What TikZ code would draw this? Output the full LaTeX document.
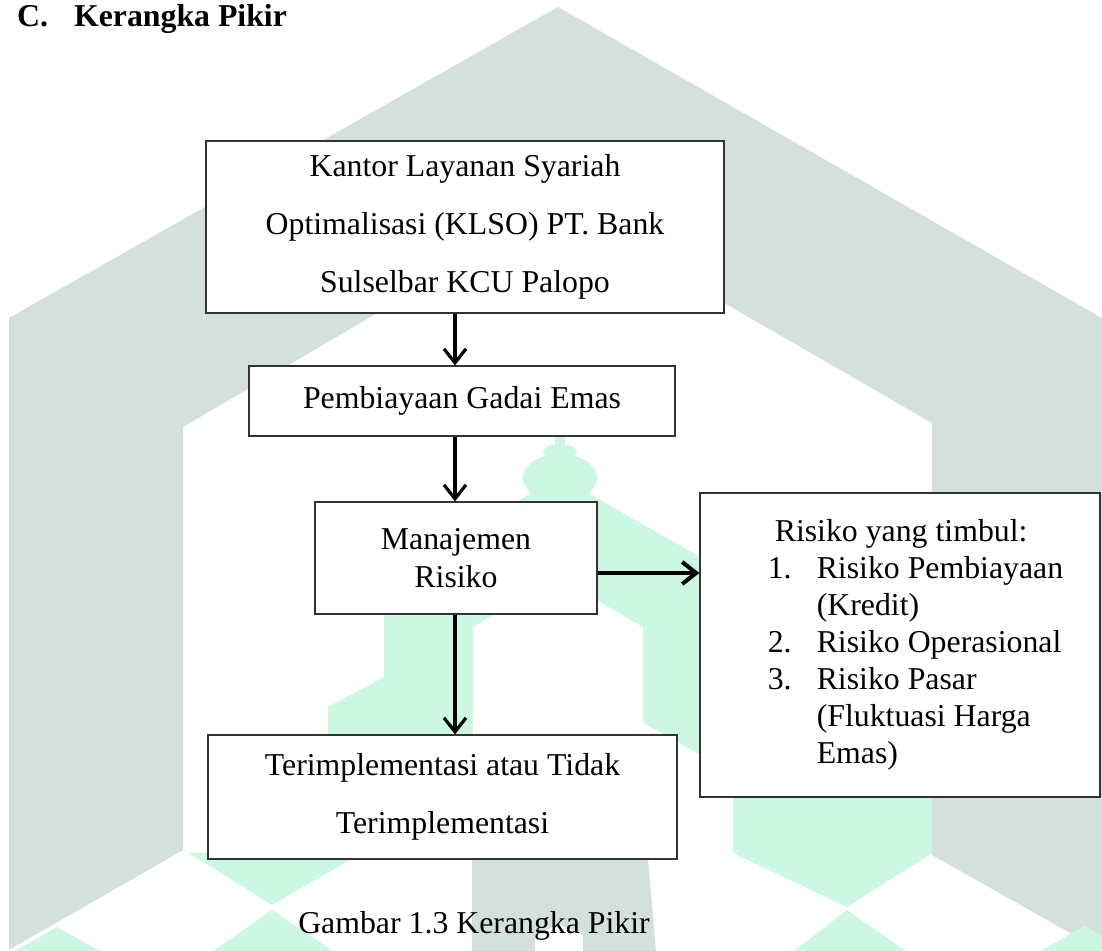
\documentclass[tikz,border=0pt]{standalone}
\usepackage{fontspec}
\setmainfont{Liberation Serif}
\usepackage{tikz}
\usetikzlibrary{arrows.meta}

\definecolor{wmgrey}{RGB}{211,224,220}
\definecolor{wmmint}{RGB}{204,247,226}

\begin{document}
\begin{tikzpicture}[x=0.5pt, y=-0.5pt,
    box/.style={draw=black!80, line width=0.6pt, fill=white, inner sep=0pt,
                align=center, font=\fontsize{15.9}{29}\selectfont},
    tight/.style={font=\fontsize{15.9}{19}\selectfont},
    flow/.style={line width=1.6pt, -{Straight Barb[length=7pt,width=11pt]}}]
  \useasboundingbox (0,0) rectangle (1102,951);

  % watermark
  \fill[wmgrey] (9,318) -- (558,7) -- (1102,318) -- (1102,951) -- (932,855)
    -- (932,423) -- (558,207) -- (183,427) -- (183,850) -- (9,950) -- cycle;
  \fill[wmgrey] (472,859) -- (648,859) -- (656,951) -- (583,951) -- (583,935)
    -- (559,924) -- (535,935) -- (535,951) -- (472,951) -- cycle;
  \fill[wmmint] (560,477) -- (932,689) -- (932,853) -- (328,853) -- (328,707)
    -- (384,677) -- (384,577) -- cycle;
  \fill[white] (473,627) -- (558,578) -- (643,627) -- (643,723) -- (733,773)
    -- (733,853) -- (473,853) -- cycle;
  \fill[wmmint] (555,430) rectangle (565,446);
  \fill[wmmint] (560,452) ellipse (17 and 8);
  \fill[wmmint] (560,478) ellipse (37 and 24);
  \fill[wmmint] (545,495) rectangle (575,520);
  \fill[wmmint] (189,853) -- (362,853) -- (272,905) -- cycle;
  \fill[wmmint] (213,951) -- (272,910) -- (333,951) -- cycle;
  \fill[wmmint] (733,853) -- (932,853) -- (847,907) -- cycle;
  \fill[wmmint] (794,951) -- (847,910) -- (906,951) -- cycle;
  \fill[wmmint] (15,951) -- (57,927) -- (100,951) -- cycle;
  \fill[wmmint] (1040,951) -- (1085,926) -- (1102,936) -- (1102,951) -- cycle;

  \node[anchor=base west, font=\fontsize{15.9}{19}\selectfont\bfseries] (judul)
    at (10,27) {\makebox[28.5pt][l]{C.}Kerangka Pikir};

  \node[box, minimum width=259pt, minimum height=86pt] (kantor) at (465,227)
    {Kantor Layanan Syariah\\ Optimalisasi (KLSO) PT. Bank\\ Sulselbar KCU Palopo};
  \node[box, minimum width=213pt, minimum height=35pt] (gadai) at (462,401)
    {Pembiayaan Gadai Emas};
  \node[box, tight, minimum width=141pt, minimum height=56pt] (manajemen) at (456,558)
    {Manajemen\\ Risiko};
  \node[box, minimum width=234.5pt, minimum height=62pt] (hasil) at (442.5,797)
    {Terimplementasi atau Tidak\\ Terimplementasi};
  \node[box, minimum width=200pt, minimum height=152pt,
        font=\fontsize{15.9}{18.5}\selectfont] (risiko) at (900,645)
    {\begin{tabular}{@{\hspace{15.5pt}}p{24.5pt}@{}l@{}}
       \multicolumn{2}{@{\hspace{19pt}}l@{}}{Risiko yang timbul:}\\
       1. & Risiko Pembiayaan\\
          & (Kredit)\\
       2. & Risiko Operasional\\
       3. & Risiko Pasar\\
          & (Fluktuasi Harga\\
          & Emas)
     \end{tabular}};

  \node[anchor=base, font=\fontsize{15.9}{19}\selectfont] (gambar) at (474,933)
    {Gambar 1.3 Kerangka Pikir};

  \coordinate (axis) at (455,0);
  \coordinate (lvl) at (0,573);
  \draw[flow] (kantor.south -| axis) -- (gadai.north -| axis);
  \draw[flow] (gadai.south -| axis) -- (manajemen.north -| axis);
  \draw[flow] (manajemen.south -| axis) -- (hasil.north -| axis);
  \draw[flow, line width=2pt] (manajemen.east |- lvl) -- (risiko.west |- lvl);
\end{tikzpicture}
\end{document}
